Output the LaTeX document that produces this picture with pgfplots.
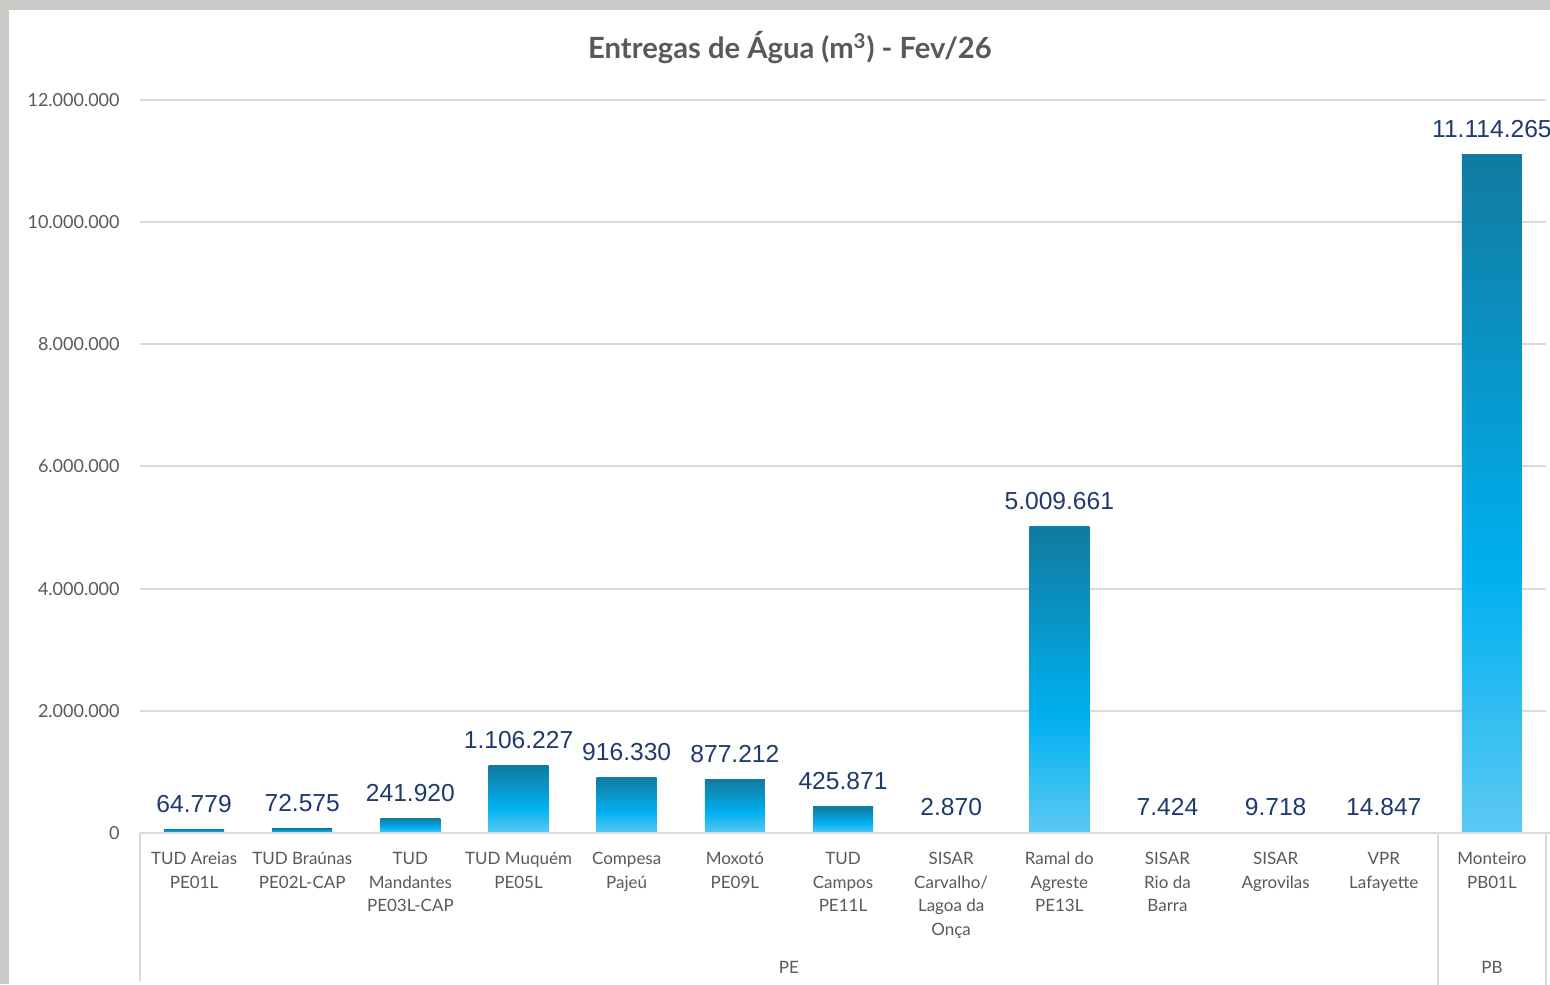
\documentclass[border=0pt]{standalone}
\usepackage{pgfplots}
\pgfplotsset{compat=1.18}
\usepackage{fontspec}
\setmainfont{Lato}
\newfontfamily\arialf{Liberation Sans}
\definecolor{titlegray}{HTML}{595959}
\definecolor{ticktext}{HTML}{595959}
\definecolor{labnavy}{HTML}{1F3A6E}
\definecolor{gridgray}{HTML}{D9D9D9}
\definecolor{bgborder}{HTML}{C9C9C5}
\definecolor{bartop}{HTML}{117AA0}
\definecolor{barmid}{HTML}{00B0F0}
\definecolor{barbot}{HTML}{5CC9F4}
\pgfdeclareverticalshading{barshade}{100bp}{color(0bp)=(barbot); color(25bp)=(barbot); color(44bp)=(barmid); color(75bp)=(bartop); color(100bp)=(bartop)}

\begin{document}
\begin{tikzpicture}
\useasboundingbox (0,0) rectangle (775pt,492pt);
\fill[bgborder] (0,0) rectangle (775pt,492pt);
\fill[white] (4.5pt,0) rectangle (775pt,487pt);
\node[font=\fontsize{14.6}{16}\selectfont\bfseries, text=titlegray] at (395pt,468pt) {Entregas de Água (m\textsuperscript{3}) - Fev/26};
\begin{axis}[
  at={(70pt,75.5pt)}, anchor=south west,
  scale only axis,
  width=703pt, height=366.5pt,
  xmin=-0.5, xmax=12.5,
  ymin=0, ymax=12000000,
  axis line style={draw=none},
  major tick length=0pt,
  ymajorgrids,
  grid style={gridgray, line width=1pt},
  ytick={0,2000000,4000000,6000000,8000000,10000000,12000000},
  yticklabels={0,2.000.000,4.000.000,6.000.000,8.000.000,10.000.000,12.000.000},
  yticklabel style={anchor=east, inner sep=0pt, xshift=-10pt, font=\fontsize{9}{10}\selectfont, text=ticktext},
  xtick={0,...,12},
  xticklabels={
    {TUD Areias\\PE01L},
    {TUD Braúnas\\PE02L-CAP},
    {TUD\\Mandantes\\PE03L-CAP},
    {TUD Muquém\\PE05L},
    {Compesa\\Pajeú},
    {Moxotó\\PE09L},
    {TUD\\Campos\\PE11L},
    {SISAR\\Carvalho/\\Lagoa da\\Onça},
    {Ramal do\\Agreste\\PE13L},
    {SISAR\\Rio da\\Barra},
    {SISAR\\Agrovilas},
    {VPR\\Lafayette},
    {Monteiro\\PB01L}},
  xticklabel style={anchor=north, align=center, inner sep=0pt, yshift=-9.5pt, font=\fontsize{8.5}{11.75}\selectfont, text=ticktext},
  scaled y ticks=false,
  clip=false,
  no markers,
  point meta=explicit symbolic,
  nodes near coords,
  nodes near coords style={anchor=base, yshift=8.5pt, inner sep=0pt, font=\arialf\fontsize{12.3}{14}\selectfont, text=labnavy},
  every axis plot/.append style={ybar, bar width=30pt, draw=none, mark=none, shading=barshade},
]
\addplot coordinates {(0,64779) [64.779]};
\addplot coordinates {(1,72575) [72.575]};
\addplot coordinates {(2,241920) [241.920]};
\addplot coordinates {(3,1106227) [1.106.227]};
\addplot coordinates {(4,916330) [916.330]};
\addplot coordinates {(5,877212) [877.212]};
\addplot coordinates {(6,425871) [425.871]};
\addplot coordinates {(7,2870) [2.870]};
\addplot coordinates {(8,5009661) [5.009.661]};
\addplot coordinates {(9,7424) [7.424]};
\addplot coordinates {(10,9718) [9.718]};
\addplot coordinates {(11,14847) [14.847]};
\addplot coordinates {(12,11114265) [11.114.265]};
\draw[gridgray, line width=1pt] (axis cs:-0.5,0) -- (axis cs:12.5,0) -- ++(2pt,0pt);
\draw[gridgray, line width=1pt] (axis cs:-0.5,0) -- ++(0pt,-74pt);
\draw[gridgray, line width=1pt] (axis cs:11.5,0) -- ++(0pt,-76pt);
\draw[gridgray, line width=1pt] (axis cs:12.5,0) -- ++(0pt,-76pt);
\node[font=\fontsize{8.5}{10}\selectfont, text=ticktext] at ([yshift=-67pt]axis cs:5.5,0) {PE};
\node[font=\fontsize{8.5}{10}\selectfont, text=ticktext] at ([yshift=-67pt]axis cs:12,0) {PB};
\end{axis}
\end{tikzpicture}
\end{document}
